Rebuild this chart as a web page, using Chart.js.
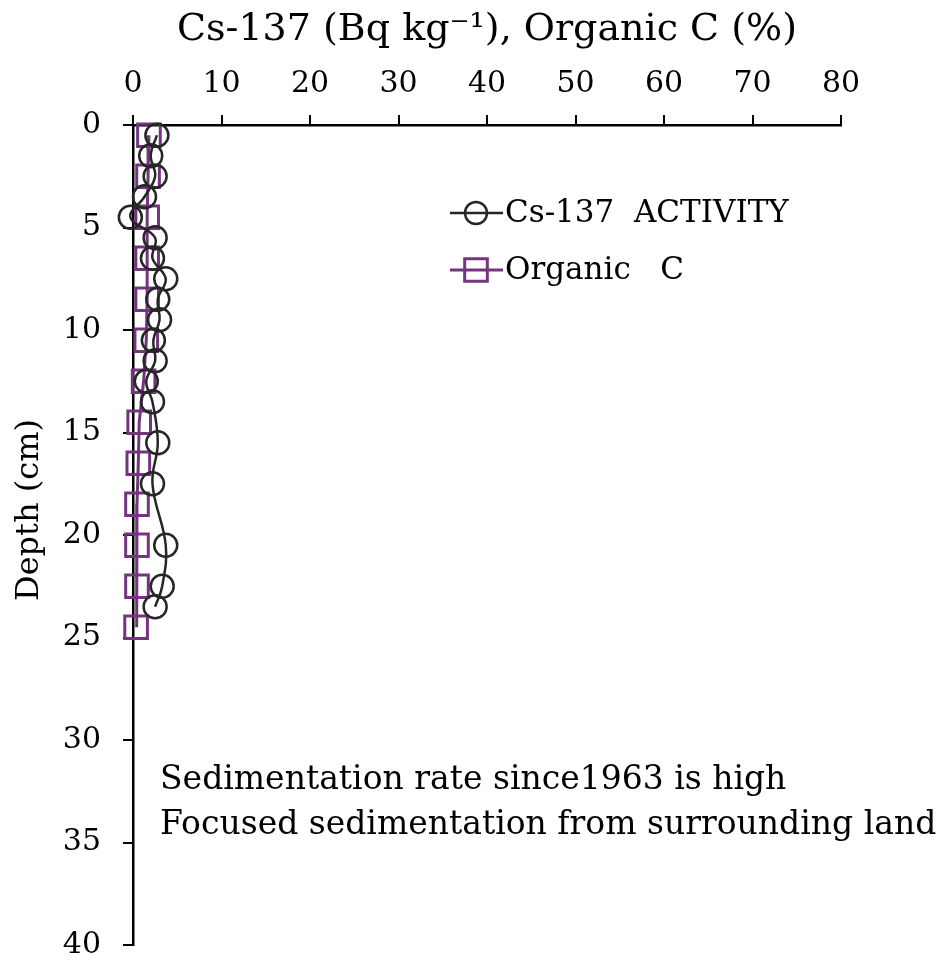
<!DOCTYPE html>
<html>
<head>
<meta charset="utf-8">
<script src="https://cdn.jsdelivr.net/npm/chart.js@4/dist/chart.umd.min.js"></script>
<style>
    html, body { margin: 0; padding: 0; background: #fff; }
    #wrap { width: 951px; height: 965px; position: relative; }
</style>
</head>
<body>
<div id="wrap"><canvas id="profile-chart"></canvas></div>
<script>
// depth profile values
const csDepths = [0.5, 1.5, 2.5, 3.5, 4.5, 5.5, 6.5, 7.5, 8.5, 9.5, 10.5, 11.5, 12.5, 13.5, 15.5, 17.5, 20.5, 22.5, 23.5];
const csValues = [2.7, 2.0, 2.5, 1.3, -0.3, 2.5, 2.2, 3.7, 2.8, 3.0, 2.3, 2.5, 1.5, 2.2, 2.8, 2.2, 3.7, 3.3, 2.5];
const ocDepths = [0.5, 2.5, 4.5, 6.5, 8.5, 10.5, 12.5, 14.5, 16.5, 18.5, 20.5, 22.5, 24.5];
const ocValues = [1.8, 1.7, 1.6, 1.6, 1.6, 1.5, 1.2, 0.7, 0.6, 0.45, 0.45, 0.45, 0.35];
const seriesNames = ['Cs-137  ACTIVITY', 'Organic   C'];
const xTicks = [0, 10, 20, 30, 40, 50, 60, 70, 80];
const yTicks = [0, 5, 10, 15, 20, 25, 30, 35, 40];
const yTitle = 'Depth (cm)';
const notes = ['Sedimentation rate since1963 is high', 'Focused sedimentation from surrounding land'];

const FONT = "'DejaVu Serif', 'Liberation Serif', serif";
const CS_COLOR = '#262626';
const OC_COLOR = '#74357f';

document.addEventListener('DOMContentLoaded', () => {
    const ctx = document.getElementById('profile-chart').getContext('2d');

    const toPoints = (depths, values) => depths.map((d, i) => ({ x: values[i], y: d }));

    // legend, depth title and the text box drawn by hand
    const overlay = {
        id: 'overlay',
        afterDatasetsDraw(chart) {
            const c = chart.ctx;
            c.save();
            const rows = [
                { y: 213, color: CS_COLOR, style: 'circle', radius: 11, width: 2.5 },
                { y: 270, color: OC_COLOR, style: 'rect', radius: 16, width: 3 }
            ];
            rows.forEach((r, i) => {
                c.strokeStyle = r.color;
                c.fillStyle = 'rgba(0,0,0,0)';
                c.lineWidth = r.width;
                c.beginPath();
                c.moveTo(450, r.y);
                c.lineTo(503, r.y);
                c.stroke();
                Chart.helpers.drawPoint(c, {
                    pointStyle: r.style,
                    radius: r.radius,
                    borderWidth: r.width
                }, 476, r.y);
                c.fillStyle = '#000';
                c.font = '31px ' + FONT;
                c.textBaseline = 'middle';
                c.textAlign = 'left';
                c.fillText(seriesNames[i], 505, r.y + 1);
            });
            c.font = '33px ' + FONT;
            c.fillStyle = '#000';
            c.textBaseline = 'middle';
            c.fillText(notes[0], 160, 780);
            c.fillText(notes[1], 160, 825);

            c.translate(30, 510);
            c.rotate(-Math.PI / 2);
            c.textAlign = 'center';
            c.font = '32px ' + FONT;
            c.fillText(yTitle, 0, 0);
            c.restore();
        }
    };

    new Chart(ctx, {
        type: 'line',
        data: {
            datasets: [{
                label: seriesNames[0],
                data: toPoints(csDepths, csValues),
                borderColor: CS_COLOR,
                backgroundColor: 'rgba(0,0,0,0)',
                borderWidth: 2.5,
                pointStyle: 'circle',
                pointRadius: 11.5,
                pointBorderWidth: 2.5,
                pointBorderColor: CS_COLOR,
                pointBackgroundColor: 'rgba(0,0,0,0)',
                tension: 0.4,
                clip: false
            }, {
                label: seriesNames[1],
                data: toPoints(ocDepths, ocValues),
                borderColor: OC_COLOR,
                backgroundColor: 'rgba(0,0,0,0)',
                borderWidth: 3,
                pointStyle: 'rect',
                pointRadius: 16,
                pointBorderWidth: 3,
                pointBorderColor: OC_COLOR,
                pointBackgroundColor: 'rgba(0,0,0,0)',
                tension: 0,
                clip: false
            }]
        },
        options: {
            responsive: true,
            maintainAspectRatio: false,
            animation: false,
            layout: { padding: { left: 0, right: 110, top: 0, bottom: 0 } },
            plugins: {
                legend: { display: false },
                tooltip: { enabled: false }
            },
            scales: {
                x: {
                    type: 'linear',
                    position: 'top',
                    min: 0,
                    max: 80,
                    afterBuildTicks: (scale) => { scale.ticks = xTicks.map(v => ({ value: v })); },
                    afterFit: (scale) => { scale.height = 125; },
                    border: { display: true, color: '#000', width: 2.5 },
                    grid: { drawOnChartArea: false, drawTicks: true, tickLength: 10, color: '#000', lineWidth: 2 },
                    ticks: { color: '#000', font: { family: FONT, size: 30 }, padding: 13, maxRotation: 0 },
                    title: {
                        display: true,
                        text: 'Cs-137 (Bq kg\u207B\u00B9), Organic C (%)',
                        color: '#000',
                        font: { family: FONT, size: 38 },
                        padding: { top: 7, bottom: 0 }
                    }
                },
                y: {
                    type: 'linear',
                    reverse: true,
                    min: 0,
                    max: 40,
                    afterBuildTicks: (scale) => { scale.ticks = yTicks.map(v => ({ value: v })); },
                    afterFit: (scale) => {
                        scale.width = 133;
                        scale.paddingBottom = 20;
                        scale.paddingTop = 0;
                    },
                    border: { display: true, color: '#000', width: 2.5 },
                    grid: { drawOnChartArea: false, drawTicks: true, tickLength: 10, color: '#000', lineWidth: 2 },
                    ticks: { color: '#000', font: { family: FONT, size: 30 }, padding: 22 },
                    title: { display: false }
                }
            }
        },
        plugins: [overlay]
    });
});
</script>
</body>
</html>
